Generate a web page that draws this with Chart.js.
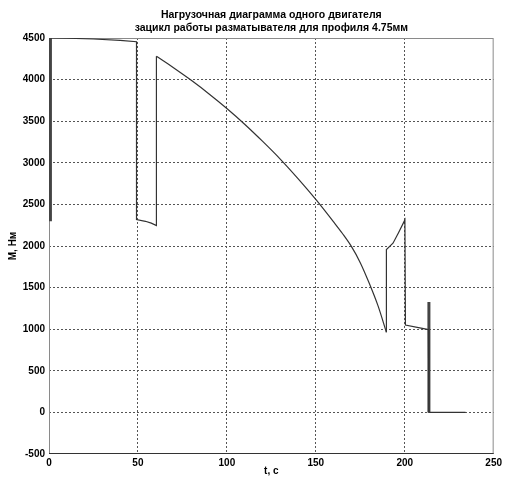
<!DOCTYPE html>
<html>
<head>
<meta charset="utf-8">
<script src="https://cdn.jsdelivr.net/npm/chart.js@4.4.0/dist/chart.umd.min.js"></script>
<style>
  html, body { margin: 0; padding: 0; background: #fff; }
  #wrap { width: 505px; height: 477px; }
</style>
</head>
<body>
<div id="wrap"><canvas id="c" width="505" height="477"></canvas></div>
<script>
// Load diagram of one motor, t in seconds, M in N*m
// start: top plateau and the dip after t=50
var tHead = [0.8, 10, 25, 40, 49.2, 49.2, 54.2, 57.5, 60.4, 60.4];
var mHead = [4500, 4497, 4488, 4472, 4455, 2318, 2297, 2275, 2246, 4280];
// long falling curve (smoothed)
var tCurve = [60.4, 70, 80, 90, 100, 110, 120, 130, 140, 150, 160, 165, 170, 175, 180, 185, 189.7];
var mCurve = [4280, 4143, 3991, 3828, 3653, 3464, 3260, 3045, 2810, 2560, 2290, 2150, 1995, 1800, 1555, 1280, 963];
// tail after t=190
var tTail = [189.7, 189.7, 193.4, 196.5, 200.1, 200.4, 213.3, 213.6, 234.2];
var mTail = [963, 1958, 2034, 2160, 2314, 1050, 995, 0, 0];

// thick (oscillating) parts
var tStart = [0.8, 0.8];
var mStart = [2297, 4500];
var tSpike = [213.6, 213.6];
var mSpike = [1326, 0];

var xTicks = [0, 50, 100, 150, 200, 250];
var yTicks = [-500, 0, 500, 1000, 1500, 2000, 2500, 3000, 3500, 4000, 4500];

var titleLines = ['Нагрузочная диаграмма одного двигателя', 'зацикл работы разматывателя для профиля 4.75мм'];

function pts(xs, ys) {
  var out = [];
  for (var i = 0; i < xs.length; i++) out.push({ x: xs[i], y: ys[i] });
  return out;
}

var tickFont = { family: 'Liberation Sans', size: 10, weight: 'bold' };

var framePlugin = {
  id: 'frame',
  beforeDatasetsDraw: function (chart) {
    var a = chart.chartArea, ctx = chart.ctx;
    ctx.save();
    ctx.strokeStyle = '#8a8a8a';
    ctx.lineWidth = 1;
    ctx.strokeRect(a.left + 0.5, a.top + 0.5, a.right - a.left - 1, a.bottom - a.top - 1);
    ctx.strokeStyle = '#333';
    ctx.beginPath();
    ctx.moveTo(a.left, a.bottom - 0.5);
    ctx.lineTo(a.right, a.bottom - 0.5);
    ctx.stroke();
    ctx.restore();
  },
  afterDraw: function (chart) {
    var a = chart.chartArea, ctx = chart.ctx;
    ctx.save();
    ctx.fillStyle = '#000';
    ctx.font = 'bold 10.5px "Liberation Sans"';
    ctx.textAlign = 'center';
    ctx.textBaseline = 'middle';
    var cx = (a.left + a.right) / 2;
    ctx.fillText(titleLines[0], cx, 15);
    ctx.fillText(titleLines[1], cx, 28);
    ctx.restore();
  }
};

function gridColor(ctx) {
  var v = ctx.tick ? ctx.tick.value : null;
  var s = ctx.scale;
  if (v === s.min || v === s.max) return 'rgba(0,0,0,0)';
  return '#555';
}

function line(xs, ys, w, col, smooth) {
  return {
    data: pts(xs, ys), showLine: true, borderColor: col, borderWidth: w, pointRadius: 0,
    cubicInterpolationMode: smooth ? 'monotone' : 'default', tension: 0
  };
}

new Chart(document.getElementById('c'), {
  type: 'scatter',
  data: {
    datasets: [
      line(tHead, mHead, 1.2, '#333', false),
      line(tCurve, mCurve, 1.2, '#333', true),
      line(tTail, mTail, 1.2, '#333', false),
      line(tStart, mStart, 3, '#444', false),
      line(tSpike, mSpike, 3, '#444', false)
    ]
  },
  options: {
    responsive: false, animation: false,
    layout: { padding: { top: 38, right: 7, left: 0, bottom: 0 } },
    plugins: { legend: { display: false }, tooltip: { enabled: false }, title: { display: false } },
    scales: {
      x: {
        type: 'linear', min: 0, max: 250,
        afterBuildTicks: function (s) { s.ticks = xTicks.map(function (v) { return { value: v }; }); },
        afterFit: function (s) { s.height = 23; },
        grid: { color: gridColor, drawTicks: false, lineWidth: 1 },
        border: { display: false, dash: [2, 2] },
        ticks: { color: '#000', font: tickFont, padding: 3, maxRotation: 0, callback: function (v) { return String(v); } },
        title: { display: true, text: 't, c', color: '#000', font: tickFont, padding: 0 }
      },
      y: {
        type: 'linear', min: -500, max: 4500,
        afterBuildTicks: function (s) { s.ticks = yTicks.map(function (v) { return { value: v }; }); },
        afterFit: function (s) { s.width = 49; },
        grid: { color: gridColor, drawTicks: false, lineWidth: 1 },
        border: { display: false, dash: [2, 2] },
        ticks: { color: '#000', font: tickFont, padding: 4, callback: function (v) { return String(v); } },
        title: { display: true, text: 'М, Нм', color: '#000', font: tickFont, padding: { top: 7, bottom: 0 } }
      }
    }
  },
  plugins: [framePlugin]
});
</script>
</body>
</html>
